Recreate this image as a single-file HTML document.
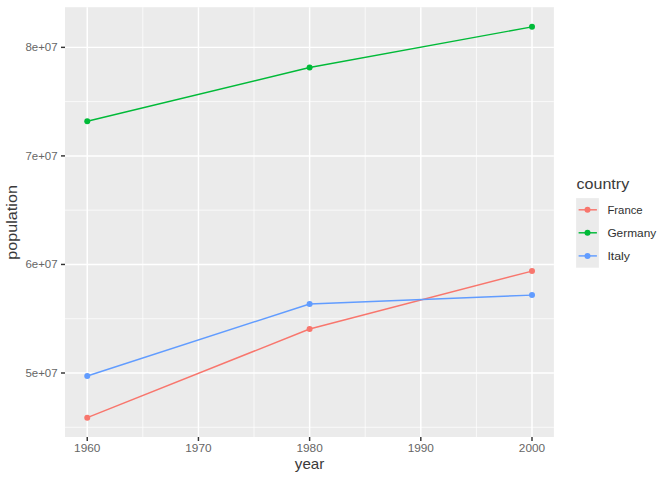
<!DOCTYPE html>
<html><head><meta charset="utf-8"><style>
html,body{margin:0;padding:0;background:#fff;width:672px;height:480px;overflow:hidden}
svg{display:block;font-family:"Liberation Sans",sans-serif}
</style></head><body>
<svg width="672" height="480" viewBox="0 0 672 480">
<rect width="672" height="480" fill="#fff"/>
<rect x="65.0" y="7.2" width="488.90" height="429.80" fill="#EBEBEB"/>
<line x1="65.0" x2="553.9" y1="427.28" y2="427.28" stroke="#fff" stroke-width="0.72"/>
<line x1="65.0" x2="553.9" y1="318.72" y2="318.72" stroke="#fff" stroke-width="0.72"/>
<line x1="65.0" x2="553.9" y1="210.17" y2="210.17" stroke="#fff" stroke-width="0.72"/>
<line x1="65.0" x2="553.9" y1="101.62" y2="101.62" stroke="#fff" stroke-width="0.72"/>
<line y1="7.2" y2="437.0" x1="142.84" x2="142.84" stroke="#fff" stroke-width="0.72"/>
<line y1="7.2" y2="437.0" x1="254.03" x2="254.03" stroke="#fff" stroke-width="0.72"/>
<line y1="7.2" y2="437.0" x1="365.22" x2="365.22" stroke="#fff" stroke-width="0.72"/>
<line y1="7.2" y2="437.0" x1="476.41" x2="476.41" stroke="#fff" stroke-width="0.72"/>
<line x1="65.0" x2="553.9" y1="373.00" y2="373.00" stroke="#fff" stroke-width="1.45"/>
<line x1="65.0" x2="553.9" y1="264.45" y2="264.45" stroke="#fff" stroke-width="1.45"/>
<line x1="65.0" x2="553.9" y1="155.90" y2="155.90" stroke="#fff" stroke-width="1.45"/>
<line x1="65.0" x2="553.9" y1="47.35" y2="47.35" stroke="#fff" stroke-width="1.45"/>
<line y1="7.2" y2="437.0" x1="87.25" x2="87.25" stroke="#fff" stroke-width="1.45"/>
<line y1="7.2" y2="437.0" x1="198.44" x2="198.44" stroke="#fff" stroke-width="1.45"/>
<line y1="7.2" y2="437.0" x1="309.62" x2="309.62" stroke="#fff" stroke-width="1.45"/>
<line y1="7.2" y2="437.0" x1="420.81" x2="420.81" stroke="#fff" stroke-width="1.45"/>
<line y1="7.2" y2="437.0" x1="532.00" x2="532.00" stroke="#fff" stroke-width="1.45"/>
<polyline points="87.25,417.70 309.60,329.00 532.00,271.10" fill="none" stroke="#F8766D" stroke-width="1.45" stroke-linejoin="round" stroke-linecap="butt"/>
<polyline points="87.25,121.25 309.60,67.43 532.00,26.85" fill="none" stroke="#00BA38" stroke-width="1.45" stroke-linejoin="round" stroke-linecap="butt"/>
<polyline points="87.25,376.00 309.60,304.00 532.00,295.10" fill="none" stroke="#619CFF" stroke-width="1.45" stroke-linejoin="round" stroke-linecap="butt"/>
<circle cx="87.25" cy="417.70" r="3.0" fill="#F8766D"/>
<circle cx="309.60" cy="329.00" r="3.0" fill="#F8766D"/>
<circle cx="532.00" cy="271.10" r="3.0" fill="#F8766D"/>
<circle cx="87.25" cy="121.25" r="3.0" fill="#00BA38"/>
<circle cx="309.60" cy="67.43" r="3.0" fill="#00BA38"/>
<circle cx="532.00" cy="26.85" r="3.0" fill="#00BA38"/>
<circle cx="87.25" cy="376.00" r="3.0" fill="#619CFF"/>
<circle cx="309.60" cy="304.00" r="3.0" fill="#619CFF"/>
<circle cx="532.00" cy="295.10" r="3.0" fill="#619CFF"/>
<line x1="61.0" x2="65.0" y1="373.00" y2="373.00" stroke="#333333" stroke-width="1.45"/>
<line x1="61.0" x2="65.0" y1="264.45" y2="264.45" stroke="#333333" stroke-width="1.45"/>
<line x1="61.0" x2="65.0" y1="155.90" y2="155.90" stroke="#333333" stroke-width="1.45"/>
<line x1="61.0" x2="65.0" y1="47.35" y2="47.35" stroke="#333333" stroke-width="1.45"/>
<line y1="437.0" y2="441.0" x1="87.25" x2="87.25" stroke="#333333" stroke-width="1.45"/>
<line y1="437.0" y2="441.0" x1="198.44" x2="198.44" stroke="#333333" stroke-width="1.45"/>
<line y1="437.0" y2="441.0" x1="309.62" x2="309.62" stroke="#333333" stroke-width="1.45"/>
<line y1="437.0" y2="441.0" x1="420.81" x2="420.81" stroke="#333333" stroke-width="1.45"/>
<line y1="437.0" y2="441.0" x1="532.00" x2="532.00" stroke="#333333" stroke-width="1.45"/>
<text x="57.6" y="377.10" text-anchor="end" font-size="11.7" fill="#666666" textLength="32.2" lengthAdjust="spacingAndGlyphs">5e+07</text>
<text x="57.6" y="267.80" text-anchor="end" font-size="11.7" fill="#666666" textLength="32.2" lengthAdjust="spacingAndGlyphs">6e+07</text>
<text x="57.6" y="159.90" text-anchor="end" font-size="11.7" fill="#666666" textLength="32.2" lengthAdjust="spacingAndGlyphs">7e+07</text>
<text x="57.6" y="50.80" text-anchor="end" font-size="11.7" fill="#666666" textLength="32.2" lengthAdjust="spacingAndGlyphs">8e+07</text>
<text x="87.25" y="452.2" text-anchor="middle" font-size="11.7" fill="#666666" textLength="26.3" lengthAdjust="spacingAndGlyphs">1960</text>
<text x="198.44" y="452.2" text-anchor="middle" font-size="11.7" fill="#666666" textLength="26.3" lengthAdjust="spacingAndGlyphs">1970</text>
<text x="309.62" y="452.2" text-anchor="middle" font-size="11.7" fill="#666666" textLength="26.3" lengthAdjust="spacingAndGlyphs">1980</text>
<text x="420.81" y="452.2" text-anchor="middle" font-size="11.7" fill="#666666" textLength="26.3" lengthAdjust="spacingAndGlyphs">1990</text>
<text x="532.00" y="452.2" text-anchor="middle" font-size="11.7" fill="#666666" textLength="26.3" lengthAdjust="spacingAndGlyphs">2000</text>
<text x="309.6" y="468.7" text-anchor="middle" font-size="15.0" fill="#3a3a3a" textLength="29.5" lengthAdjust="spacingAndGlyphs">year</text>
<text transform="translate(17,222.4) rotate(-90)" x="0" y="0" text-anchor="middle" font-size="15.0" fill="#3a3a3a" textLength="74.7" lengthAdjust="spacingAndGlyphs">population</text>
<text x="576.5" y="189.0" font-size="15.0" fill="#3a3a3a" textLength="52.7" lengthAdjust="spacingAndGlyphs">country</text>
<rect x="576.1" y="198.1" width="22.8" height="69.6" fill="#EBEBEB"/>
<line x1="578.6" x2="596.9" y1="209.8" y2="209.8" stroke="#F8766D" stroke-width="1.45"/>
<circle cx="587.5" cy="209.8" r="3.0" fill="#F8766D"/>
<text x="607.4" y="213.90" font-size="11.7" fill="#303030" textLength="35.3" lengthAdjust="spacingAndGlyphs">France</text>
<line x1="578.6" x2="596.9" y1="232.8" y2="232.8" stroke="#00BA38" stroke-width="1.45"/>
<circle cx="587.5" cy="232.8" r="3.0" fill="#00BA38"/>
<text x="607.4" y="236.90" font-size="11.7" fill="#303030" textLength="48.8" lengthAdjust="spacingAndGlyphs">Germany</text>
<line x1="578.6" x2="596.9" y1="255.9" y2="255.9" stroke="#619CFF" stroke-width="1.45"/>
<circle cx="587.5" cy="255.9" r="3.0" fill="#619CFF"/>
<text x="607.4" y="260.00" font-size="11.7" fill="#303030" textLength="22.6" lengthAdjust="spacingAndGlyphs">Italy</text>
</svg>
</body></html>
